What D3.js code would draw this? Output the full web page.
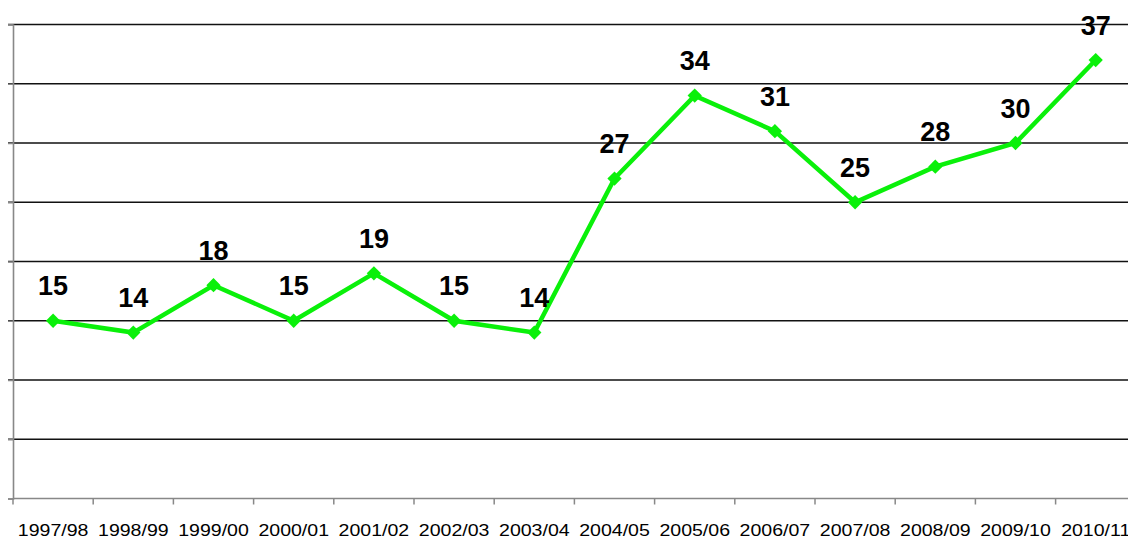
<!DOCTYPE html>
<html>
<head>
<meta charset="utf-8">
<script src="https://cdn.jsdelivr.net/npm/d3@7"></script>
<style>
  html, body { margin: 0; padding: 0; background: #fff; }
  svg { display: block; }
</style>
</head>
<body>
<svg id="chart" width="1128" height="539"></svg>
<script>
// Seasons and their counts
const seasons = ["1997/98", "1998/99", "1999/00", "2000/01", "2001/02", "2002/03", "2003/04",
                 "2004/05", "2005/06", "2006/07", "2007/08", "2008/09", "2009/10", "2010/11"];
const counts = [15, 14, 18, 15, 19, 15, 14, 27, 34, 31, 25, 28, 30, 37];
const gridTicks = [0, 5, 10, 15, 20, 25, 30, 35, 40];

(function () {
  const svg = d3.select("#chart");
  const plotLeft = 13, bandW = 80.2, plotTop = 24.5, plotBottom = 498.5;
  const green = "#0af00a";

  const x = d3.scaleBand()
    .domain(seasons)
    .range([plotLeft, plotLeft + bandW * seasons.length])
    .paddingInner(0).paddingOuter(0);

  const y = d3.scaleLinear().domain([0, 40]).range([plotBottom, plotTop]);

  // horizontal gridlines
  svg.append("g")
    .selectAll("line")
    .data(gridTicks.filter(d => d > 0))
    .join("line")
    .attr("x1", plotLeft - 5)
    .attr("x2", 1128)
    .attr("y1", d => y(d))
    .attr("y2", d => y(d))
    .attr("stroke", "#111")
    .attr("stroke-width", 1.5);

  // value axis (tick marks only)
  const yAxis = svg.append("g")
    .attr("transform", `translate(${plotLeft},0)`)
    .call(d3.axisLeft(y).tickValues(gridTicks).tickSize(5).tickFormat(""));
  yAxis.select(".domain").attr("stroke", "#888").attr("stroke-width", 1.6);
  yAxis.selectAll(".tick line").attr("stroke", "#888").attr("stroke-width", 1.5);

  // category axis with ticks between seasons
  const xAxis = svg.append("g").attr("transform", `translate(0,${plotBottom})`);
  xAxis.append("line")
    .attr("x1", plotLeft).attr("x2", 1128)
    .attr("stroke", "#888").attr("stroke-width", 1.6);
  xAxis.selectAll("line.tk")
    .data(seasons)
    .join("line")
    .attr("class", "tk")
    .attr("x1", d => x(d)).attr("x2", d => x(d))
    .attr("y1", 0).attr("y2", 6)
    .attr("stroke", "#888").attr("stroke-width", 1.5);
  xAxis.selectAll("text")
    .data(seasons)
    .join("text")
    .attr("transform", d => `translate(${x(d) + x.bandwidth() / 2},37) scale(1.15,1)`)
    .attr("text-anchor", "middle")
    .attr("font-family", "Liberation Sans, Arial, sans-serif")
    .attr("font-size", 17)
    .attr("fill", "#000")
    .text(d => d);

  const cx = d => x(d) + x.bandwidth() / 2;
  const pts = seasons.map((s, i) => [s, counts[i]]);

  // series line
  svg.append("path")
    .datum(pts)
    .attr("fill", "none")
    .attr("stroke", green)
    .attr("stroke-width", 4.5)
    .attr("stroke-linejoin", "miter")
    .attr("d", d3.line().x(d => cx(d[0])).y(d => y(d[1])));

  // diamond markers
  svg.append("g")
    .selectAll("path")
    .data(pts)
    .join("path")
    .attr("transform", d => `translate(${cx(d[0])},${y(d[1])})`)
    .attr("d", d3.symbol(d3.symbolDiamond2, 130))
    .attr("fill", green);

  // value labels
  svg.append("g")
    .selectAll("text")
    .data(pts)
    .join("text")
    .attr("x", d => cx(d[0]))
    .attr("y", d => y(d[1]) - 25.5)
    .attr("text-anchor", "middle")
    .attr("font-family", "Liberation Sans, Arial, sans-serif")
    .attr("font-weight", "bold")
    .attr("font-size", 27)
    .attr("fill", "#000")
    .text(d => d[1]);
})();
</script>
</body>
</html>
